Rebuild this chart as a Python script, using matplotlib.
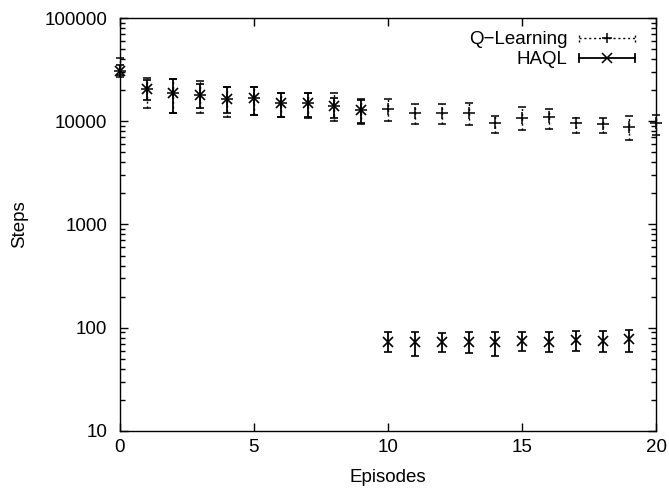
import numpy as np
import matplotlib
matplotlib.use('Agg')
from matplotlib import pyplot as plt
from matplotlib.legend_handler import HandlerBase
from matplotlib.lines import Line2D

plt.rcParams['font.family'] = ['Liberation Sans', 'DejaVu Sans']
FS = 13.5

# Q-Learning: episodes, mean steps, lower / upper ends of error bars
q_ep = [0, 1, 2, 3, 4, 5, 6, 7, 8, 9, 10, 11, 12, 13, 14, 15, 16, 17, 18, 19, 20]
q_mean = [31000, 20500, 18800, 18000, 16400, 16800, 15000, 15000, 14000, 12800,
          13100, 12000, 12000, 12000, 9600, 10700, 10900, 9600, 9500, 8800, 9700]
q_low = [26800, 13400, 12000, 12100, 11000, 11500, 11000, 10800, 10000, 9400,
         10000, 9400, 9400, 9200, 7700, 8200, 8400, 7700, 7700, 6600, 7400]
q_high = [41000, 26200, 25700, 24500, 21400, 21400, 18800, 18800, 18800, 16500,
          16400, 14700, 14700, 15000, 11200, 13700, 13100, 10800, 10800, 11200, 11500]

# HAQL
h_ep = [0, 1, 2, 3, 4, 5, 6, 7, 8, 9, 10, 11, 12, 13, 14, 15, 16, 17, 18, 19]
h_mean = [31000, 20500, 18800, 18000, 16400, 16800, 15000, 15000, 14000, 12800,
          73, 72, 72, 73, 72, 75, 73, 76, 75, 77]
h_low = [28000, 16000, 12000, 13500, 12000, 11500, 11000, 11000, 10800, 9600,
         58, 53, 58, 57, 53, 59, 58, 59, 58, 58]
h_high = [35000, 25000, 25700, 23000, 21400, 21400, 18800, 18800, 16800, 16000,
          91, 91, 89, 91, 91, 91, 91, 92, 92, 95]


class CapLineHandler(HandlerBase):
    def __init__(self, marker, ls, lw):
        super().__init__()
        self.marker = marker
        self.ls = ls
        self.lw = lw

    def create_artists(self, legend, orig, xd, yd, w, h, fs, trans):
        y = yd + h / 2
        kw = dict(color='black', lw=self.lw, linestyle=self.ls, transform=trans)
        line = Line2D([xd, xd + w], [y, y], **kw)
        cap1 = Line2D([xd, xd], [y - 3, y + 3], **kw)
        cap2 = Line2D([xd + w, xd + w], [y - 3, y + 3], **kw)
        mk = Line2D([xd + w / 2], [y], marker=self.marker, color='black', ms=7,
                    mew=1.1, transform=trans)
        return [line, cap1, cap2, mk]


fig = plt.figure(figsize=(6.69, 4.88), dpi=100)
ax = fig.add_axes([0.179, 0.117, 0.802, 0.846])

q_mean = np.array(q_mean)
h_mean = np.array(h_mean)
q_err = [q_mean - np.array(q_low), np.array(q_high) - q_mean]
h_err = [h_mean - np.array(h_low), np.array(h_high) - h_mean]

eq = ax.errorbar(q_ep, q_mean, yerr=q_err, fmt='+', color='black', ms=8, mew=1.1,
                 elinewidth=1, capsize=3, capthick=1, clip_on=False, zorder=3)
eq[2][0].set_linestyle((0, (1.5, 2)))
eh = ax.errorbar(h_ep, h_mean, yerr=h_err, fmt='x', color='black', ms=6.5, mew=1.2,
                 elinewidth=1.3, capsize=3, capthick=1.3, clip_on=False, zorder=3)

ax.set_yscale('log')
ax.set_xlim(0, 20)
ax.set_ylim(10, 100000)
ax.set_xticks([0, 5, 10, 15, 20])
ax.set_yticks([10, 100, 1000, 10000, 100000])
ax.set_yticklabels(['10', '100', '1000', '10000', '100000'])
ax.yaxis.set_minor_formatter(matplotlib.ticker.NullFormatter())
ax.tick_params(which='both', direction='in', top=True, right=True, labelsize=FS)
ax.tick_params(which='major', length=6, width=1)
ax.tick_params(which='minor', length=3.5, width=1)
ax.tick_params(axis='x', pad=5.5)
ax.tick_params(axis='y', pad=9)
for s in ax.spines.values():
    s.set_linewidth(1)

ax.set_xlabel('Episodes', fontsize=FS, labelpad=10)
ax.set_ylabel('Steps', fontsize=FS, labelpad=12)

leg_handles = [Line2D([], []), Line2D([], [])]
leg = ax.legend(leg_handles, ['Q\u2212Learning', 'HAQL'], loc='upper right',
                frameon=False, markerfirst=False, fontsize=FS,
                handlelength=3, handletextpad=0.6, labelspacing=0.15,
                borderaxespad=0.3, bbox_to_anchor=(0.985, 1.0),
                handler_map={leg_handles[0]: CapLineHandler('+', (0, (1.5, 2)), 1),
                             leg_handles[1]: CapLineHandler('x', '-', 1.3)})

fig.savefig('out.png', dpi=100)
